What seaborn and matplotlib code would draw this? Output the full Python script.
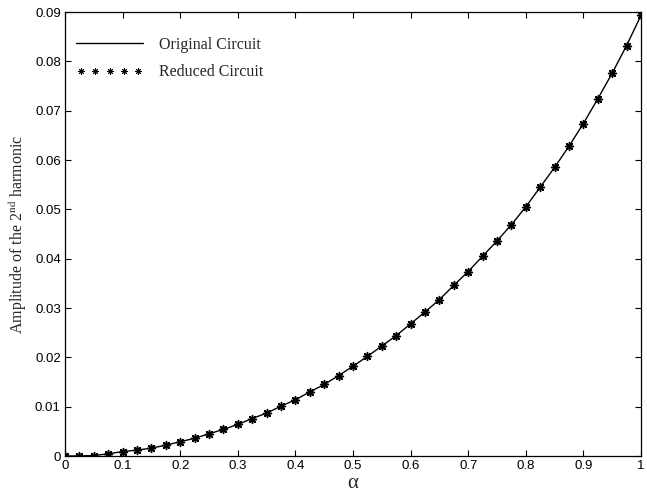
import matplotlib
matplotlib.use("Agg")
import matplotlib.pyplot as plt
import seaborn as sns
import pandas as pd

# alpha sweep and 2nd harmonic amplitude
alpha = [0.0, 0.025, 0.05, 0.075, 0.1, 0.125, 0.15, 0.175, 0.2, 0.225,
         0.25, 0.275, 0.3, 0.325, 0.35, 0.375, 0.4, 0.425, 0.45, 0.475,
         0.5, 0.525, 0.55, 0.575, 0.6, 0.625, 0.65, 0.675, 0.7, 0.725,
         0.75, 0.775, 0.8, 0.825, 0.85, 0.875, 0.9, 0.925, 0.95, 0.975, 1.0]
amp_original = [0.0, 0.00002, 0.0001, 0.00045, 0.0009, 0.0012, 0.0016, 0.0022,
                0.0029, 0.0036, 0.0045, 0.0054, 0.0064, 0.0076, 0.0087, 0.0101,
                0.0114, 0.0130, 0.0145, 0.0163, 0.0182, 0.0202, 0.0223, 0.0244,
                0.0268, 0.0292, 0.0317, 0.0346, 0.0374, 0.0405, 0.0436, 0.0469,
                0.0505, 0.0545, 0.0585, 0.0628, 0.0674, 0.0724, 0.0776, 0.0832,
                0.0893]
amp_reduced = list(amp_original)

x_ticks = [0, 0.1, 0.2, 0.3, 0.4, 0.5, 0.6, 0.7, 0.8, 0.9, 1]
x_ticklabels = ["0", "0.1", "0.2", "0.3", "0.4", "0.5", "0.6", "0.7", "0.8", "0.9", "1"]
y_ticks = [0, 0.01, 0.02, 0.03, 0.04, 0.05, 0.06, 0.07, 0.08, 0.09]
y_ticklabels = ["0", "0.01", "0.02", "0.03", "0.04", "0.05", "0.06", "0.07", "0.08", "0.09"]

df = pd.DataFrame({"alpha": alpha, "orig": amp_original, "red": amp_reduced})

sns.set_style("ticks")
plt.rcParams["font.family"] = ["Liberation Sans", "DejaVu Sans"]
plt.rcParams["mathtext.fontset"] = "stix"

fig = plt.figure(figsize=(6.47, 4.96), dpi=100)
ax = fig.add_axes([0.1005, 0.0806, 0.8902, 0.8952])

sns.lineplot(data=df, x="alpha", y="orig", ax=ax, color="black", linewidth=1.0,
             label="Original Circuit")
sns.scatterplot(data=df, x="alpha", y="red", ax=ax, color="black",
                marker=(8, 2, 0), s=32, linewidth=1.1, edgecolor="black",
                label="Reduced Circuit", zorder=3)

ax.set_xlim(0, 1)
ax.set_ylim(0, 0.09)
ax.set_xticks(x_ticks)
ax.set_xticklabels(x_ticklabels)
ax.set_yticks(y_ticks)
ax.set_yticklabels(y_ticklabels)
ax.tick_params(direction="in", top=True, right=True, length=4, width=0.8,
               labelsize=9.5, colors="black", pad=3)
for s in ax.spines.values():
    s.set_visible(True)
    s.set_color("black")
    s.set_linewidth(0.9)

ax.set_xlabel("α", family="Liberation Serif", fontsize=15, labelpad=1)
ax.set_ylabel(r"Amplitude of the 2$^{\mathrm{nd}}$ harmonic",
              family="Liberation Serif", fontsize=11.5, labelpad=4)

leg = ax.legend(loc="upper left", bbox_to_anchor=(0.0, 0.97), frameon=False,
                scatterpoints=5, scatteryoffsets=[0.5], handlelength=4.2,
                prop={"family": "Liberation Serif", "size": 11.5},
                borderaxespad=0.3, handletextpad=1.0, labelspacing=0.75)
h = leg.legend_handles[1]
h.set_sizes([16])
h.set_linewidth(0.7)

fig.savefig("out.png", dpi=100)
